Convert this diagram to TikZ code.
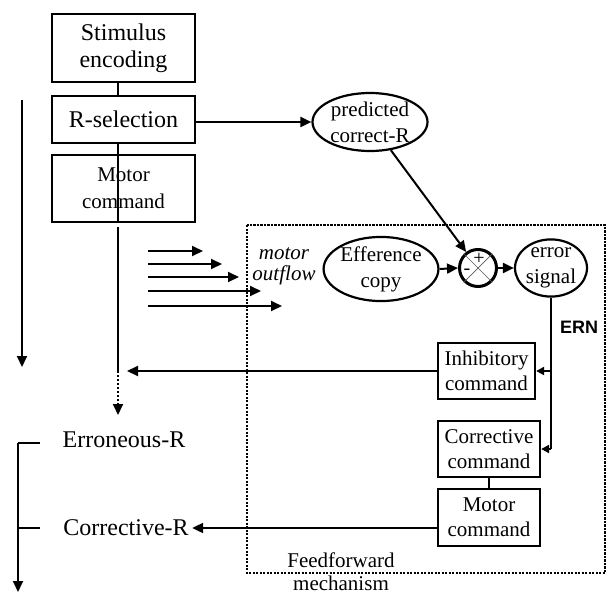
\documentclass[tikz,border=0pt]{standalone}
\usepackage{fontspec}
\setmainfont{Liberation Serif}
\newfontfamily\ernfont{Liberation Sans}
\usetikzlibrary{arrows.meta,shapes.geometric,calc}
\begin{document}
\begin{tikzpicture}[x=1pt,y=-1pt,
  box/.style={draw,line width=2.3pt,inner sep=0pt,align=center,font=\fontsize{21}{25}\selectfont},
  bigbox/.style={box,font=\fontsize{24}{27}\selectfont},
  ell/.style={ellipse,draw,line width=2.2pt,inner sep=0pt,align=center,font=\fontsize{21}{26}\selectfont},
  lbl/.style={font=\fontsize{24}{27}\selectfont},
  ln/.style={line width=2pt},
  arr/.style={line width=2pt,-{Triangle[length=11pt,width=10pt]}},
  sarr/.style={line width=2pt,-{Triangle[length=8pt,width=8pt]}}]
\useasboundingbox (0,0) rectangle (610,594);
\fill[white] (0,0) rectangle (610,594);

% left column boxes
\node[bigbox,minimum width=143pt,minimum height=68pt] (stim) at (123.5,48) {Stimulus\\encoding};
\node[bigbox,minimum width=143pt,minimum height=47pt] (rsel) at (123.5,119.5) {R-selection};
\node[box,minimum width=143pt,minimum height=67pt,font=\fontsize{21}{27}\selectfont] (mot1) at (123.5,188.5) {Motor\\command};
\coordinate (mx) at (118,0);
\draw[ln] (stim.south -| mx) -- (rsel.north -| mx);
\draw[ln] (rsel.south -| mx) -- (mot1.south -| mx |- mot1.north);

% ellipses and comparator
\node[ell,minimum width=115pt,minimum height=58pt] (pred) at (370,122) {predicted\\correct-R};
\node[ell,minimum width=112pt,minimum height=58pt] (eff) at (381,269) {Efference\\copy};
\node[circle,draw,line width=3pt,minimum size=37pt,inner sep=0pt] (sum) at (478,268) {};
\draw[gray!70!black,line width=0.7pt] (sum.45) -- (sum.225) (sum.135) -- (sum.315);
\node[font=\fontsize{20}{20}\selectfont,inner sep=0pt] (plus) at (479,259) {+};
\node[font=\fontsize{20}{20}\selectfont,inner sep=0pt] (minus) at (467,272) {-};
\node[ell,minimum width=72pt,minimum height=50pt] (err) at (551,268) {error\\signal};

\draw[arr] (rsel.east |- pred.west) -- (pred.west);
\draw[arr] (pred) -- (sum);
\draw[arr] (eff.east) -- (sum.west);
\draw[arr] (sum.east) -- (err.west);

% feedforward box
\draw[line width=1.8pt,dash pattern=on 2.2pt off 1.3pt] (247,225) rectangle (605,573);
\node[font=\fontsize{21}{23}\selectfont,align=center,inner sep=0pt] (ff) at (341,572) {Feedforward\\mechanism};
\node[font=\itshape\fontsize{21}{21}\selectfont,align=center,inner sep=0pt] (mo) at (284,266) {motor\\outflow};

% right column boxes
\node[box,minimum width=97pt,minimum height=56pt] (inh) at (486.5,371) {Inhibitory\\command};
\node[box,minimum width=102pt,minimum height=56pt] (corr) at (489,449) {Corrective\\command};
\node[box,minimum width=102pt,minimum height=57pt] (mot2) at (489,517.5) {Motor\\command};
\draw[ln] (corr.south) -- (mot2.north);
\node[font=\ernfont\bfseries\fontsize{18}{20}\selectfont,inner sep=0pt] (ern) at (579,327) {ERN};
\draw[ln] (err.south) -- (err.south |- corr.east);
\draw[sarr] (err.south |- inh.east) -- (inh.east);
\draw[sarr] (err.south |- corr.east) -- (corr.east);

% outputs
\node[lbl] (erron) at (124,440) {Erroneous-R};
\node[lbl] (crr) at (126,528) {Corrective-R};
\coordinate (merge) at (118,371);
\coordinate (etip) at (118,415);
\draw[ln,shorten <=4pt] (mot1.south -| mx) -- (merge);
\draw[line width=2pt,dotted,-{Triangle[length=11pt,width=10pt]}] (merge) -- (etip);
\draw[arr,shorten >=9pt] (inh.west) -- (merge);
\draw[arr] (mot2.west |- crr.east) -- (crr.east);

% left time arrow
\coordinate (t1) at (22,100);
\coordinate (t2) at (22,367);
\draw[arr] (t1) -- (t2);

% bracket
\coordinate (b1) at (40,443);
\coordinate (b2) at (18,443);
\coordinate (b3) at (18,592);
\coordinate (b4) at (18,528);
\coordinate (b5) at (40,528);
\draw[ln] (b1) -- (b2);
\draw[arr] (b2) -- (b3);
\draw[ln] (b4) -- (b5);

% motor outflow arrows
\foreach \i/\xe/\ye in {1/203/251,2/222/264,3/239/277,4/261/291,5/282/306}{
  \coordinate (os\i) at (148,\ye);
  \coordinate (oe\i) at (\xe,\ye);
  \draw[arr] (os\i) -- (oe\i);
}
\end{tikzpicture}
\end{document}
